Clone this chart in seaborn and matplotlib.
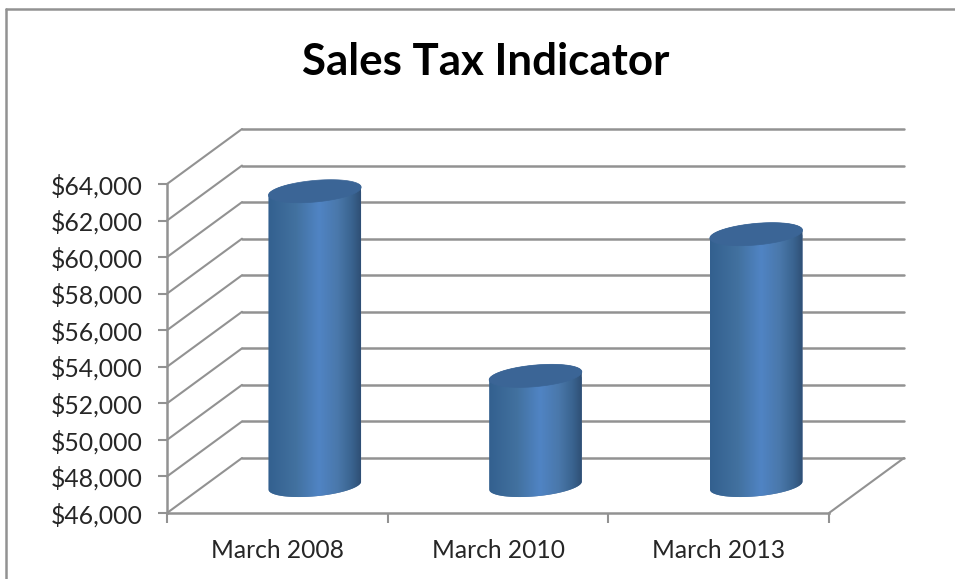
import numpy as np
import matplotlib
matplotlib.use('Agg')
import matplotlib.pyplot as plt
import seaborn as sns
from matplotlib.colors import LinearSegmentedColormap
from matplotlib.lines import Line2D
from matplotlib.patches import PathPatch
from matplotlib.path import Path
from matplotlib.transforms import Affine2D

periods = ['March 2008', 'March 2010', 'March 2013']
sales_tax = [62100, 52000, 59750]
y_ticks = [46000, 48000, 50000, 52000, 54000, 56000, 58000, 60000, 62000, 64000]

W, H = 955, 579
grey = '#929292'

sns.set_style('white')
plt.rcParams['font.family'] = ['Lato', 'DejaVu Sans']

fig = plt.figure(figsize=(W / 100, H / 100), dpi=100)
# the front plane of the fake 3d box
ax = fig.add_axes([167 / W, 1 - 513 / H, 662 / W, 329 / H])

sns.barplot(x=periods, y=sales_tax, color='#4a7ab5', width=0.42, ax=ax)
ax.set_xlim(-0.5, 2.5)
ax.set_ylim(y_ticks[0], y_ticks[-1])

# pixel -> data units
ux = 3 / 662
uy = 18000 / 329
depth_x = 75 * ux
depth_y = 55 * uy

# walls
for v in y_ticks:
    ax.plot([-0.5, -0.5 + depth_x], [v, v + depth_y], color=grey, lw=1.5, clip_on=False, zorder=1)
    ax.plot([-0.5 + depth_x, 2.5 + depth_x], [v + depth_y, v + depth_y], color=grey, lw=1.8, clip_on=False, zorder=1)
ax.plot([2.5, 2.5 + depth_x], [y_ticks[0], y_ticks[0] + depth_y], color=grey, lw=1.5, clip_on=False, zorder=1)

# cylinders sit halfway into the box
shift = Affine2D().translate(depth_x / 2, depth_y / 2) + ax.transData
shade = LinearSegmentedColormap.from_list('cyl', [
    (0.0, '#33608f'), (0.3, '#42719f'), (0.55, '#5084c4'),
    (0.75, '#4a78ab'), (0.9, '#3a6490'), (1.0, '#2f4f75')])
grad = np.linspace(0, 1, 256).reshape(1, -1)
t = np.linspace(0, 2 * np.pi, 121)

for p, val in zip(ax.patches, sales_tax):
    cx = p.get_x() + p.get_width() / 2
    half = p.get_width() / 2
    ex = half * np.cos(t)
    ey = 4 * uy * np.cos(t) + 10.8 * uy * np.sin(t)
    lower = t[60:]  # left end round the underside to the right end
    low_x = cx + half * np.cos(lower)
    low_y = y_ticks[0] + 4 * uy * np.cos(lower) + 10.8 * uy * np.sin(lower)
    upper = t[:61]
    up_x = cx + half * np.cos(upper)
    up_y = val + 4 * uy * np.cos(upper) + 10.8 * uy * np.sin(upper)
    body = np.vstack([np.column_stack([low_x, low_y]), np.column_stack([up_x, up_y])])
    body = np.vstack([body, body[:1]])
    clip = PathPatch(Path(body), transform=shift, fc='none', ec='none')
    ax.add_patch(clip)
    p.set_transform(shift)
    p.set_clip_path(clip)
    im = ax.imshow(grad, extent=(cx - half, cx + half, y_ticks[0] - 900, val + 900),
                   aspect='auto', cmap=shade, transform=shift, zorder=3)
    im.set_clip_path(clip)
    ax.fill(cx + ex, val + ey, color='#3b6596', lw=0.5, transform=shift, clip_on=False, zorder=4)

ax.set_xlim(-0.5, 2.5)
ax.set_ylim(y_ticks[0], y_ticks[-1])

# axes, ticks between categories
ax.set_yticks(y_ticks, labels=[f'${v:,}' for v in y_ticks])
ax.set_xticks([-0.5, 0.5, 1.5, 2.5], labels=[])
ax.set_xticks([0, 1, 2], labels=periods, minor=True)
ax.tick_params(axis='y', left=True, length=6.5, width=1.5, color=grey, pad=11, labelsize=17.8, labelcolor='#262626')
ax.tick_params(axis='x', which='major', bottom=True, length=7, width=1.5, color=grey)
ax.tick_params(axis='x', which='minor', bottom=False, length=0, pad=19, labelsize=17.7, labelcolor='#262626')
ax.set_xlabel('')
ax.patch.set_alpha(0)
for side in ['top', 'right']:
    ax.spines[side].set_visible(False)
for side in ['left', 'bottom']:
    ax.spines[side].set_color(grey)
    ax.spines[side].set_linewidth(1.8)

fig.text(486 / W, 1 - 62 / H, 'Sales Tax Indicator', ha='center', va='center',
         fontsize=31.6, fontweight='bold', color='black')

# outer chart frame, cut by the image edge
fig.add_artist(Line2D([6 / W, 6 / W], [0, 1 - 9 / H], color=grey, lw=1.8))
fig.add_artist(Line2D([6 / W, 1], [1 - 9 / H, 1 - 9 / H], color=grey, lw=1.8))

fig.savefig('out.png', dpi=100)
